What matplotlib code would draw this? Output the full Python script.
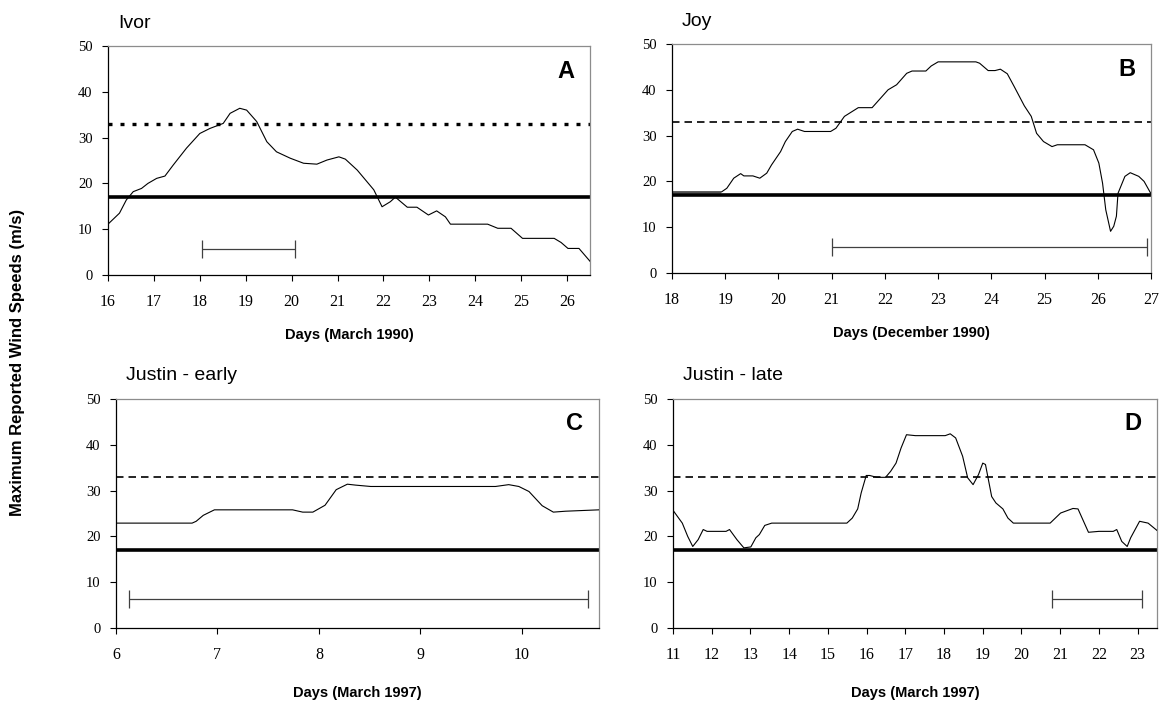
import matplotlib
matplotlib.use("Agg")
import matplotlib.pyplot as plt

# panel A - Ivor (March 1990)
ivor_day = [16.0, 16.25, 16.4, 16.55, 16.73, 16.87, 17.06, 17.24, 17.42, 17.71, 18.0, 18.22,
            18.51, 18.66, 18.87, 19.02, 19.24, 19.46, 19.67, 19.97, 20.26, 20.55, 20.77, 21.03,
            21.17, 21.43, 21.79, 21.97, 22.15, 22.26, 22.52, 22.73, 22.98, 23.16, 23.35, 23.46,
            24.27, 24.49, 24.78, 25.03, 25.72, 25.87, 26.02, 26.26, 26.5]
ivor_wind = [11.1, 13.5, 16.4, 18.2, 18.9, 20.0, 21.1, 21.6, 24.0, 27.7, 30.9, 32.0,
             33.1, 35.3, 36.4, 36.0, 33.5, 29.1, 26.9, 25.5, 24.4, 24.2, 25.1, 25.8,
             25.3, 22.9, 18.6, 14.9, 16.0, 17.0, 14.8, 14.8, 13.1, 14.0, 12.7, 11.1,
             11.1, 10.2, 10.2, 8.0, 8.0, 7.1, 5.8, 5.8, 3.0]

# panel B - Joy (December 1990)
joy_day = [18.0, 18.93, 19.03, 19.16, 19.29, 19.35, 19.52, 19.65, 19.78, 19.87, 20.04, 20.13,
           20.26, 20.36, 20.49, 20.98, 21.08, 21.24, 21.5, 21.76, 21.86, 22.06, 22.22, 22.41,
           22.51, 22.77, 22.87, 23.0, 23.71, 23.78, 23.94, 24.07, 24.17, 24.3, 24.43, 24.62,
           24.75, 24.85, 24.98, 25.14, 25.24, 25.76, 25.92, 26.02, 26.09, 26.15, 26.24, 26.3,
           26.35, 26.38, 26.51, 26.61, 26.77, 26.87, 27.0]
joy_wind = [17.7, 17.7, 18.5, 20.7, 21.7, 21.2, 21.2, 20.7, 21.8, 23.6, 26.5, 28.7,
            30.9, 31.4, 30.9, 30.9, 31.6, 34.2, 36.1, 36.1, 37.4, 40.0, 41.1, 43.6,
            44.1, 44.1, 45.2, 46.1, 46.1, 45.8, 44.2, 44.2, 44.5, 43.5, 40.7, 36.5,
            34.2, 30.5, 28.7, 27.6, 28.0, 28.0, 26.9, 24.0, 19.6, 13.8, 9.1, 10.2,
            12.4, 17.4, 21.1, 21.9, 21.1, 20.0, 17.3]

# panel C - Justin early (March 1997)
je_day = [6.0, 6.75, 6.79, 6.86, 6.97, 7.74, 7.84, 7.94, 8.06, 8.17, 8.28, 8.36, 8.51,
          9.74, 9.87, 9.97, 10.07, 10.2, 10.31, 10.43, 10.76]
je_wind = [22.9, 22.9, 23.3, 24.6, 25.8, 25.8, 25.3, 25.3, 26.8, 30.2, 31.4, 31.2, 30.9,
           30.9, 31.3, 30.9, 29.8, 26.7, 25.3, 25.5, 25.8]

# panel D - Justin late (March 1997)
jl_day = [11.0, 11.24, 11.38, 11.51, 11.65, 11.78, 11.88, 12.37, 12.46, 12.65, 12.83, 13.01,
          13.14, 13.23, 13.37, 13.55, 15.49, 15.63, 15.77, 15.86, 15.99, 16.08, 16.26, 16.49,
          16.62, 16.76, 16.89, 17.03, 17.26, 18.03, 18.16, 18.3, 18.48, 18.61, 18.75, 18.89,
          19.0, 19.07, 19.23, 19.34, 19.52, 19.65, 19.79, 20.74, 21.01, 21.33, 21.46, 21.73,
          22.0, 22.37, 22.46, 22.59, 22.73, 22.82, 23.05, 23.27, 23.5]
jl_wind = [25.7, 22.9, 20.0, 17.8, 19.3, 21.5, 21.1, 21.1, 21.5, 19.3, 17.5, 17.7,
           19.7, 20.4, 22.4, 22.9, 22.9, 24.0, 26.0, 29.5, 33.3, 33.3, 32.9, 32.9,
           34.2, 36.0, 39.3, 42.2, 42.0, 42.0, 42.4, 41.5, 37.5, 32.8, 31.3, 33.5,
           36.0, 35.7, 28.7, 27.3, 26.0, 24.0, 22.9, 22.9, 25.1, 26.1, 26.0, 20.9,
           21.1, 21.1, 21.5, 18.9, 17.8, 19.7, 23.3, 22.9, 21.3]

titles = ["Ivor", "Joy", "Justin - early", "Justin - late"]
letters = ["A", "B", "C", "D"]
xlabels = ["Days (March 1990)", "Days (December 1990)", "Days (March 1997)", "Days (March 1997)"]
xlims = [(16, 26.5), (18, 27), (6, 10.76), (11, 23.5)]
xticks = [list(range(16, 27)), list(range(18, 28)), list(range(6, 11)), list(range(11, 24))]
# period bars (start, end, level)
bar_start = [18.05, 21.01, 6.13, 20.78]
bar_end = [20.08, 26.93, 10.65, 23.1]
bar_level = [5.7, 5.6, 6.3, 6.3]
gale = 17      # solid threshold
hurricane = 33  # dotted threshold

series = [(ivor_day, ivor_wind), (joy_day, joy_wind), (je_day, je_wind), (jl_day, jl_wind)]

W, H = 1166, 702
fig = plt.figure(figsize=(W / 100, H / 100), dpi=100)

# axes boxes in pixels: left, top, right, bottom
boxes = [(108, 46, 590, 275), (672, 44, 1151, 273), (116, 399, 599, 628), (673, 399, 1157, 628)]
label_y = [-0.23, -0.23, -0.255, -0.255]

for i, (l, t, r, b) in enumerate(boxes):
    ax = fig.add_axes([l / W, 1 - b / H, (r - l) / W, (b - t) / H])
    x, y = series[i]
    ax.plot(x, y, color="black", lw=0.8, zorder=3)
    if i == 1:
        # grey band where the record sits just above the gale line
        ax.fill_between(x[:2], gale, y[:2], color="#a0a0a0", lw=0, zorder=2)
    ax.axhline(gale, color="black", lw=2.6, zorder=2)
    if i == 0:
        ax.axhline(hurricane, color="black", lw=2.4, linestyle=(0, (1.2, 2.4)), zorder=2)
    else:
        ax.axhline(hurricane, color="black", lw=1.2, linestyle=(0, (4.5, 3)), zorder=2)
    mid = (bar_start[i] + bar_end[i]) / 2
    half = (bar_end[i] - bar_start[i]) / 2
    ax.errorbar([mid], [bar_level[i]], xerr=[half], fmt="none", ecolor="#404040",
                elinewidth=0.9, capsize=6.5, capthick=0.9)

    ax.set_xlim(*xlims[i])
    ax.set_ylim(0, 50)
    ax.set_xticks(xticks[i])
    ax.set_yticks(range(0, 51, 10))
    ax.tick_params(axis="x", direction="out", length=4, width=0.8, pad=10,
                   labelsize=11.5, labelfontfamily="Liberation Serif")
    ax.tick_params(axis="y", direction="out", length=4, width=0.8, pad=7,
                   labelsize=10.5, labelfontfamily="Liberation Serif")
    for s in ["top", "right"]:
        ax.spines[s].set_color("#8c8c8c")
        ax.spines[s].set_linewidth(0.9)
    for s in ["left", "bottom"]:
        ax.spines[s].set_color("black")
        ax.spines[s].set_linewidth(0.9)

    ax.text(10 / (r - l), 1 + 23 / (b - t), titles[i], transform=ax.transAxes,
            fontsize=14, family="Liberation Sans", va="center", ha="left")
    ax.text(1 - 16 / (r - l), 1 - 25 / (b - t), letters[i], transform=ax.transAxes,
            fontsize=17, fontweight="bold", family="Liberation Sans", va="center", ha="right")
    ax.set_xlabel(xlabels[i], fontsize=10.5, fontweight="bold", family="Liberation Sans")
    ax.xaxis.set_label_coords(0.5, label_y[i])

fig.text(18 / W, 1 - 362 / H, "Maximum Reported Wind Speeds (m/s)", rotation=90,
         fontsize=12, fontweight="bold", family="Liberation Sans", ha="center", va="center")

fig.savefig("out.png", dpi=100)
